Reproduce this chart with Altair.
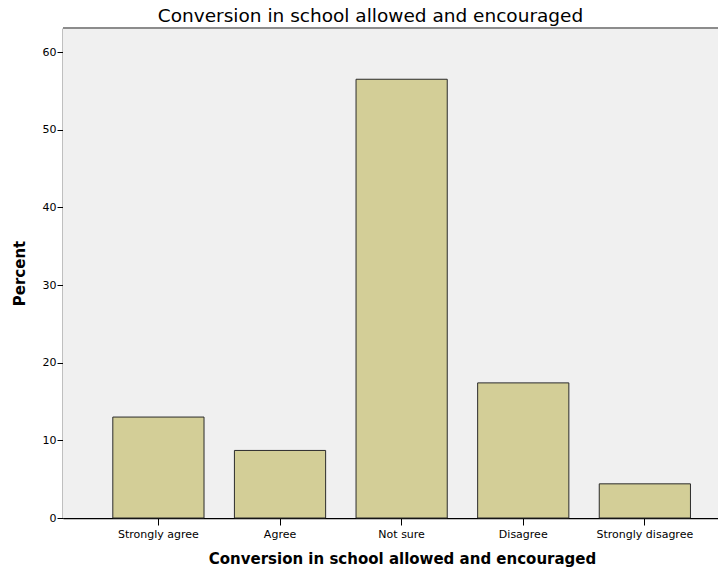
import altair as alt
import pandas as pd

categories = ["Strongly agree", "Agree", "Not sure", "Disagree", "Strongly disagree"]
percents = [13.0, 8.7, 56.5, 17.4, 4.4]
y_ticks = [0, 10, 20, 30, 40, 50, 60]

df = pd.DataFrame({"cat": categories, "pct": percents})

W, H = 655, 490
FONT = "DejaVu Sans"

one = pd.DataFrame({"a": [0]})

bg = alt.Chart(one).mark_rect(fill="#F0F0F0").encode(
    x=alt.value(0), x2=alt.value(W), y=alt.value(0), y2=alt.value(H)
)

bars = alt.Chart(df).mark_bar(fill="#D3CE97", stroke="#2b2b2b", strokeWidth=1).encode(
    x=alt.X(
        "cat:N",
        sort=categories,
        scale=alt.Scale(paddingInner=0.25, paddingOuter=0.318, align=0.644),
        axis=alt.Axis(
            title="Conversion in school allowed and encouraged",
            labelAngle=0,
            labelFontSize=11,
            labelFont=FONT,
            labelColor="#000000",
            labelPadding=3,
            tickSize=7,
            tickColor="#000000",
            domainColor="#000000",
            domainWidth=1.5,
            grid=False,
            titleFont=FONT,
            titleFontSize=15,
            titleFontWeight="bold",
            titleColor="#000000",
            titleX=339,
            titleY=40,
            titleBaseline="middle",
            titleAnchor="start",
            titleAlign="center",
        ),
    ),
    y=alt.Y(
        "pct:Q",
        scale=alt.Scale(domain=[0, 63.1], nice=False),
        axis=alt.Axis(
            title="Percent",
            values=y_ticks,
            labelFontSize=11,
            labelFont=FONT,
            labelColor="#000000",
            labelPadding=1,
            tickSize=6,
            tickColor="#000000",
            domainColor="#000000",
            domainWidth=1.5,
            grid=False,
            titleFont=FONT,
            titleFontSize=15,
            titleFontWeight="bold",
            titleColor="#000000",
            titleAngle=270,
            titleX=-44,
            titleY=245,
            titleAlign="center",
            titleBaseline="middle",
        ),
    ),
)

top_line = alt.Chart(one).mark_rule(color="#8c8c8c", strokeWidth=2).encode(
    x=alt.value(0), x2=alt.value(W), y=alt.value(0)
)

chart = (
    alt.layer(bg, bars, top_line)
    .properties(
        width=W,
        height=H,
        autosize=alt.AutoSizeParams(type="none"),
        padding={"left": 55, "top": 20, "right": 0, "bottom": 49},
        title=alt.TitleParams(
            text="Conversion in school allowed and encouraged",
            font=FONT,
            fontSize=18.5,
            fontWeight="normal",
            color="#000000",
            dx=-20,
            offset=-17,
            baseline="bottom",
        ),
    )
    .configure_view(stroke=None)
    .configure(background="#FFFFFF")
)

chart.save("out.html", embed_options={"renderer": "svg", "actions": False})
